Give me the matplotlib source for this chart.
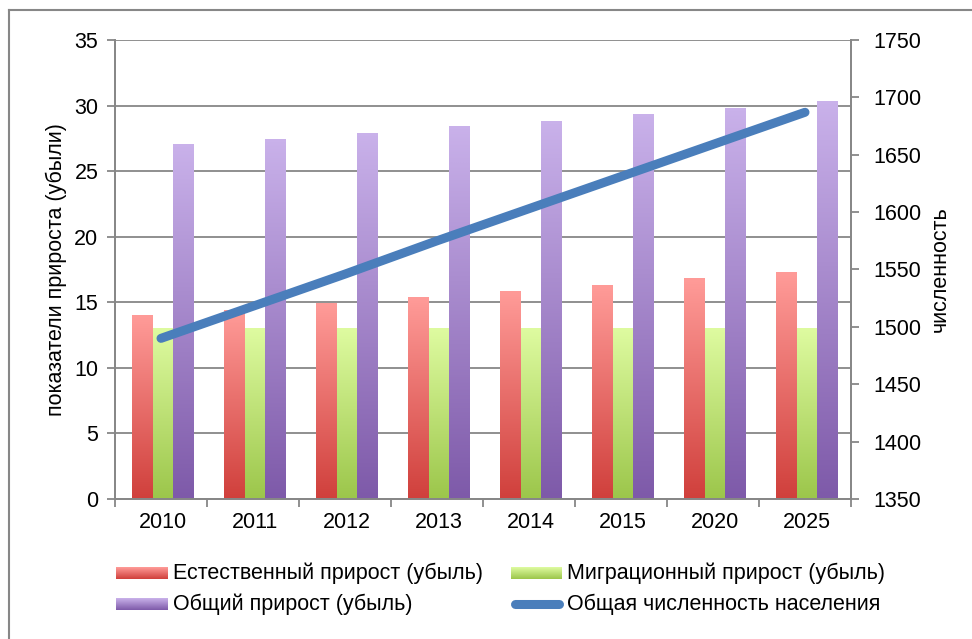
import numpy as np
import matplotlib.pyplot as plt
from matplotlib.colors import LinearSegmentedColormap
from matplotlib.lines import Line2D

plt.rcParams['font.family'] = ['Liberation Sans', 'DejaVu Sans']

# data
years = ['2010', '2011', '2012', '2013', '2014', '2015', '2020', '2025']
natural = [14.0, 14.4, 14.9, 15.35, 15.8, 16.3, 16.8, 17.25]
migration = [13.0, 13.0, 13.0, 13.0, 13.0, 13.0, 13.0, 13.0]
total = [27.0, 27.45, 27.9, 28.4, 28.8, 29.3, 29.8, 30.3]
population = [1490, 1518, 1546, 1575, 1603, 1631, 1659, 1687]

labels = ['Естественный прирост (убыль)', 'Миграционный прирост (убыль)',
          'Общий прирост (убыль)', 'Общая численность населения']

# gradient top -> bottom for each bar series
grads = [('#FF9B98', '#D0403C'), ('#DEFBA0', '#9CC64B'), ('#C9B1EA', '#7E5AA9')]
line_color = '#4A7EBB'
grey = '#878787'
fs = 15.5

fig = plt.figure(figsize=(9.72, 6.39), dpi=100)
ax = fig.add_axes([115/972, 1-499/639, (851-115)/972, (499-40)/639])

x = np.arange(len(years))
w = 0.222
offsets = [-0.2, 0.022, 0.244]
series = [natural, migration, total]

def grad_cmap(c):
    return LinearSegmentedColormap.from_list('g', [c[1], c[0]])

for vals, off, c in zip(series, offsets, grads):
    cm = grad_cmap(c)
    for xi, v in zip(x, vals):
        g = np.linspace(0, 1, 100).reshape(-1, 1)
        ax.imshow(g, extent=[xi+off-w/2, xi+off+w/2, 0, v], origin='lower',
                  aspect='auto', cmap=cm, zorder=2, interpolation='bicubic')

ax.set_xlim(-0.5, len(years)-0.5)
ax.set_ylim(0, 35)
ax.set_yticks(np.arange(0, 36, 5))
ax.yaxis.grid(True, color=grey, linewidth=1.3)
ax.set_axisbelow(True)
ax.set_xticks(np.arange(-0.5, len(years)), [''] * (len(years)+1))
ax.set_xticks(x + 0.02, years, minor=True)
ax.tick_params(axis='x', which='major', direction='out', length=6, color=grey, width=1.3)
ax.tick_params(axis='x', which='minor', length=0, labelsize=fs, pad=9)
ax.tick_params(axis='y', direction='out', length=6, color=grey, width=1.3, labelsize=fs, pad=6)
ax.set_ylabel('показатели прироста (убыли)', fontsize=fs)
ax.yaxis.set_label_coords((67-115)/736, 0.5)
for s in ['left', 'bottom', 'right']:
    ax.spines[s].set_color(grey)
    ax.spines[s].set_linewidth(1.3)
ax.spines['top'].set_visible(False)

ax2 = ax.twinx()
ax2.plot(x, population, color=line_color, linewidth=6.5, solid_capstyle='round', zorder=5)
ax2.set_ylim(1350, 1750)
ax2.set_yticks(np.arange(1350, 1751, 50))
ax2.tick_params(axis='y', direction='out', length=6, color=grey, width=1.3, labelsize=fs, pad=10)
ax2.set_ylabel('численность', fontsize=fs)
ax2.yaxis.set_label_coords((930-115)/736, 0.5)
for s in ['left', 'bottom', 'right']:
    ax2.spines[s].set_color(grey)
    ax2.spines[s].set_linewidth(1.3)
ax2.spines['top'].set_visible(False)

# legend, laid out by hand
hx = [116/972, 511/972]
tx = [173/972, 567/972]
ry = [1-573/639, 1-604/639]
pos = [(0, 0), (1, 0), (0, 1)]
for (col, row), c, lab in zip(pos, grads, labels[:3]):
    hax = fig.add_axes([hx[col], ry[row]-6/639, 51/972, 12/639])
    hax.imshow(np.linspace(0, 1, 50).reshape(-1, 1), origin='lower', aspect='auto',
               cmap=grad_cmap(c), extent=[0, 1, 0, 1])
    hax.axis('off')
    fig.text(tx[col], ry[row], lab, fontsize=fs, va='center', ha='left')
fig.add_artist(Line2D([hx[1]+4/972, hx[1]+48/972], [ry[1], ry[1]], color=line_color,
                      linewidth=6.5, solid_capstyle='round'))
fig.text(tx[1], ry[1], labels[3], fontsize=fs, va='center', ha='left')

# outer chart frame
fig.add_artist(Line2D([9/972, 1], [1-10/639, 1-10/639], color=grey, linewidth=1.5))
fig.add_artist(Line2D([9/972, 9/972], [0, 1-10/639], color=grey, linewidth=1.5))

fig.savefig('out.png', dpi=100)
